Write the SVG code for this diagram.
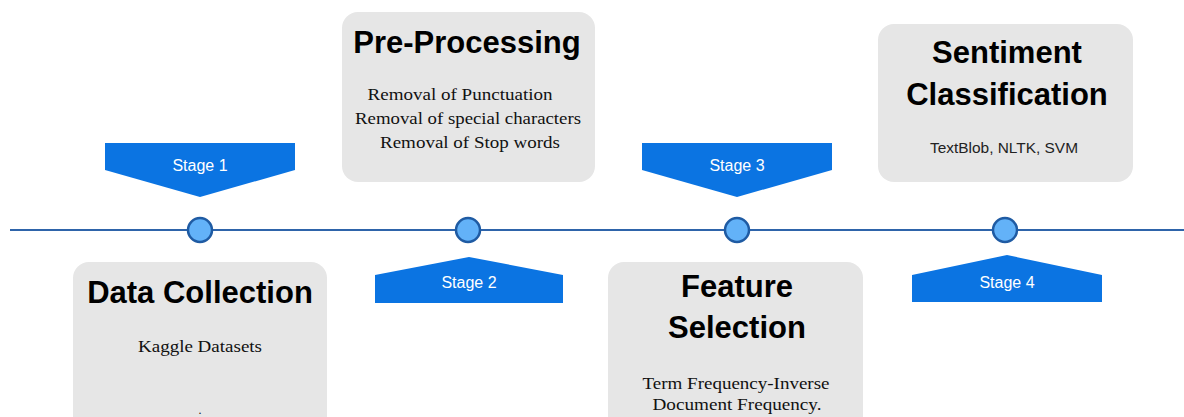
<svg xmlns="http://www.w3.org/2000/svg" width="1184" height="417" viewBox="0 0 1184 417">
<style>
.box{fill:#e6e6e6;}
.banner{fill:#0b74e2;}
.dot{fill:#63b2f8;stroke:#1f5ba3;stroke-width:2.5;}
.title{font-family:"Liberation Sans",Arial,sans-serif;font-weight:bold;font-size:31px;fill:#000;text-anchor:middle;}
.sub{font-family:"Liberation Serif","Times New Roman",serif;font-size:17.5px;fill:#111;text-anchor:middle;}
.subs{font-family:"Liberation Sans",Arial,sans-serif;font-size:14px;fill:#222;text-anchor:middle;}
.stage{font-family:"Liberation Sans",Arial,sans-serif;font-size:16px;fill:#fff;text-anchor:middle;}
</style>
<rect width="1184" height="417" fill="#fff"/>
<g id="connectors">
<line x1="10" y1="230" x2="1184" y2="230" stroke="#2e64aa" stroke-width="2"/>
</g>
<g id="stage1">
<polygon class="banner" points="105,143 295,143 295,170 200,197 105,170"/>
<text class="stage" x="200" y="171">Stage 1</text>
<circle class="dot" cx="200" cy="230" r="12"/>
</g>
<g id="stage2">
<polygon class="banner" points="375,275 469,257 563,275 563,303 375,303"/>
<text class="stage" x="469" y="288">Stage 2</text>
<circle class="dot" cx="468" cy="230" r="12"/>
</g>
<g id="stage3">
<polygon class="banner" points="642,143 832,143 832,170 737,197 642,170"/>
<text class="stage" x="737" y="171">Stage 3</text>
<circle class="dot" cx="737" cy="230" r="12"/>
</g>
<g id="stage4">
<polygon class="banner" points="912,275 1007,255 1102,275 1102,302 912,302"/>
<text class="stage" x="1007" y="288">Stage 4</text>
<circle class="dot" cx="1005" cy="230" r="12"/>
</g>
<g id="data-collection">
<rect class="box" x="73" y="262" width="254" height="175" rx="16"/>
<text class="title" x="200" y="303">Data Collection</text>
<text class="sub" x="200" y="352" textLength="124" lengthAdjust="spacingAndGlyphs">Kaggle Datasets</text>
<text class="sub" x="200" y="414" style="font-size:12px">.</text>
</g>
<g id="pre-processing">
<rect class="box" x="342" y="12" width="253" height="170" rx="16"/>
<text class="title" x="467" y="53">Pre-Processing</text>
<text class="sub" x="460" y="100" textLength="185" lengthAdjust="spacingAndGlyphs">Removal of Punctuation</text>
<text class="sub" x="468" y="124" textLength="226" lengthAdjust="spacingAndGlyphs">Removal of special characters</text>
<text class="sub" x="470" y="148" textLength="180" lengthAdjust="spacingAndGlyphs">Removal of Stop words</text>
</g>
<g id="feature-selection">
<rect class="box" x="608" y="262" width="255" height="175" rx="16"/>
<text class="title" x="737" y="297">Feature</text>
<text class="title" x="737" y="338">Selection</text>
<text class="sub" x="736" y="389" textLength="187" lengthAdjust="spacingAndGlyphs">Term Frequency-Inverse</text>
<text class="sub" x="737" y="410" textLength="169" lengthAdjust="spacingAndGlyphs">Document Frequency.</text>
</g>
<g id="sentiment-classification">
<rect class="box" x="878" y="24" width="255" height="158" rx="16"/>
<text class="title" x="1007" y="63">Sentiment</text>
<text class="title" x="1007" y="105">Classification</text>
<text class="subs" x="1004" y="153" textLength="148" lengthAdjust="spacingAndGlyphs">TextBlob, NLTK, SVM</text>
</g>
</svg>
